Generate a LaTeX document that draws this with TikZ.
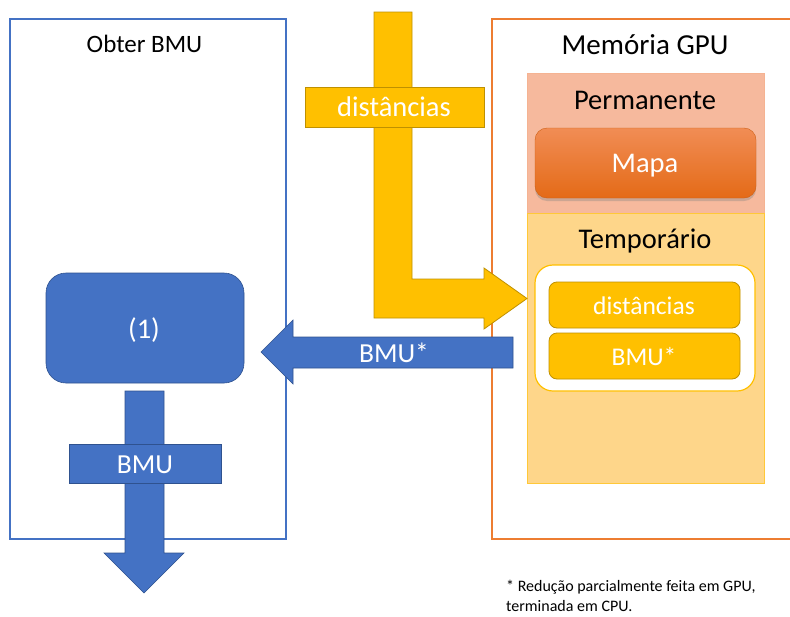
\documentclass[tikz,border=0pt]{standalone}
\usepackage{fontspec}
\setmainfont{Carlito}
\usetikzlibrary{shadows}

\definecolor{bmublue}{HTML}{4472C4}
\definecolor{bmuedge}{HTML}{2F528F}
\definecolor{amber}{HTML}{FFC000}
\definecolor{amberedge}{HTML}{BF9000}
\definecolor{gpuorange}{HTML}{ED7D31}
\definecolor{permfill}{HTML}{F6B99D}
\definecolor{tempfill}{HTML}{FED68A}
\definecolor{tempedge}{HTML}{FFC838}
\definecolor{mapatop}{HTML}{F18D55}
\definecolor{mapabot}{HTML}{E46A17}

\newcommand\fsz[1]{\fontsize{#1}{#1}\selectfont}

\begin{document}
\begin{tikzpicture}[x=1pt,y=-1pt,
  region/.style={anchor=north west, inner sep=0pt, outer sep=0pt},
  panelblue/.style={region, draw=bmublue, line width=1.1pt, fill=white},
  panelorange/.style={region, draw=gpuorange, line width=1.4pt, fill=white},
  title/.style={anchor=base, inner sep=0pt, text=black},
  whitetxt/.style={anchor=base, inner sep=0pt, text=white},
  bluearrow/.style={fill=bmublue, draw=bmuedge, line width=0.6pt},
  yellowarrow/.style={fill=amber, draw=amberedge, line width=0.8pt},
  tag/.style={region, line width=0.8pt},
  slot/.style={region, fill=amber, draw=amberedge, line width=0.8pt, rounded corners=8pt},
]
\useasboundingbox (0,0) rectangle (790,616);

% ---- left panel: Obter BMU
\node[panelblue, minimum width=276pt, minimum height=520pt] (obter) at (10,19) {};
\node[title] (obtertitle) at (144.5,52) {\fsz{25}Obter BMU};

% ---- right panel: GPU memory
\node[panelorange, minimum width=310pt, minimum height=520pt] (gpu) at (492,19) {};
\node[title] (gputitle) at (645,54) {\fsz{29}Memória GPU};

\node[region, fill=permfill, draw=permfill!90!gpuorange, line width=0.6pt,
      minimum width=237pt, minimum height=140pt] (perm) at (527,73) {};
\node[region, fill=tempfill, draw=tempedge, line width=0.8pt,
      minimum width=237pt, minimum height=270pt] (temp) at (527,213) {};
\node[title] (permtitle) at (645,109) {\fsz{28.5}Permanente};
\node[title] (temptitle) at (645,248) {\fsz{28.5}Temporário};

\node[region, top color=mapatop, bottom color=mapabot, draw=mapabot!90!black,
      line width=0.4pt, rounded corners=12pt,
      drop shadow={shadow xshift=0pt, shadow yshift=-3pt, opacity=0.35},
      minimum width=221pt, minimum height=70pt] (mapa) at (535,128) {};
\node[whitetxt] (mapatext) at (645,172) {\fsz{28.5}Mapa};

\node[region, fill=white, draw=amber, line width=1.2pt, rounded corners=18pt,
      minimum width=220pt, minimum height=126pt] (holder) at (535,265) {};
\node[slot, minimum width=191pt, minimum height=46pt] (distslot) at (549,282) {};
\node[whitetxt] (disttext) at (644,314) {\fsz{25.5}distâncias};
\node[slot, minimum width=191pt, minimum height=46pt] (bmuslot) at (549,333) {};
\node[whitetxt] (bmuslottext) at (644,365) {\fsz{25.5}BMU*};

% ---- yellow L-shaped arrow carrying the distances into GPU memory
\coordinate (distin) at (374,12);
\coordinate (distout) at (527,298.5);
\draw[yellowarrow] (distin) -- (412,12) -- (412,279) -- (484,279) -- (484,268)
  -- (distout) -- (484,329) -- (484,318) -- (374,318) -- cycle;
\node[tag, fill=amber, draw=amberedge, minimum width=179pt, minimum height=40pt]
  (distlabel) at (305,87) {};
\node[whitetxt] (distlabeltext) at (394,116) {\fsz{28.5}distâncias};

% ---- blue arrow bringing BMU* back to step (1)
\node[region, fill=bmublue, draw=bmuedge, line width=0.6pt, rounded corners=20pt,
      minimum width=198pt, minimum height=110pt] (step) at (46,273) {};
\node[whitetxt] (steptext) at (144,338) {\fsz{28.5}(1)};

\coordinate (bmuback) at (261,352);
\draw[bluearrow] (513,337) -- (513,368) -- (293,368) -- (293,384)
  -- (bmuback) -- (293,320) -- (293,337) -- cycle;
\node[whitetxt] (bmustartext) at (394,362) {\fsz{27.5}BMU*};

% ---- blue arrow carrying the final BMU out
\coordinate (bmuout) at (144,593);
\draw[bluearrow] (125,391) -- (164,391) -- (164,553) -- (184,553) -- (bmuout)
  -- (104,553) -- (125,553) -- cycle;
\node[tag, fill=bmublue, draw=bmuedge, minimum width=152pt, minimum height=39pt]
  (bmulabel) at (69,444) {};
\node[whitetxt] (bmulabeltext) at (145,473) {\fsz{27.5}BMU};

% ---- footnote
\node[anchor=base west, inner sep=0pt, font=\fsz{16}] (note) at (506,591)
  {* Redução parcialmente feita em GPU,};
\node[anchor=base west, inner sep=0pt, font=\fsz{16}] (note2) at (506,611)
  {terminada em CPU.};
\end{tikzpicture}
\end{document}
